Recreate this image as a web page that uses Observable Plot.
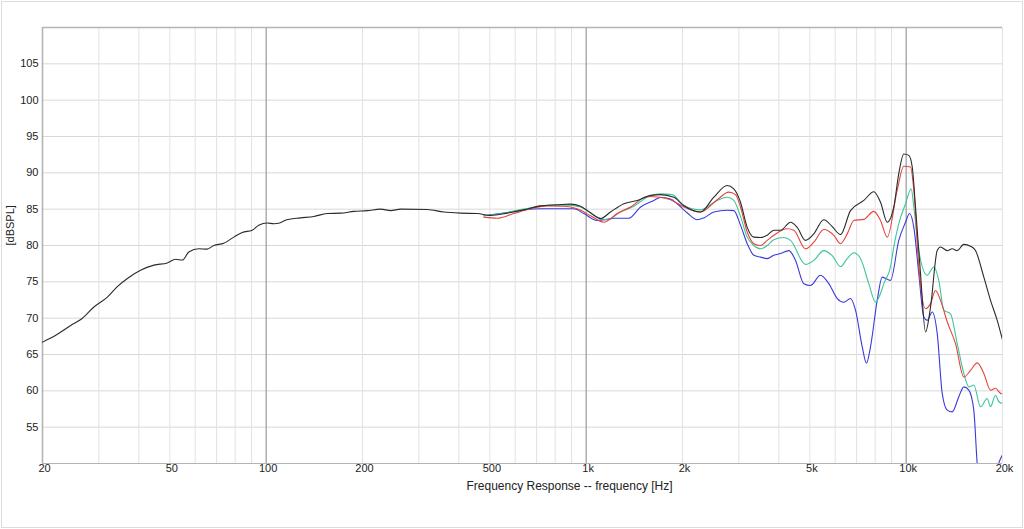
<!DOCTYPE html>
<html>
<head>
<meta charset="utf-8">
<script src="https://cdn.jsdelivr.net/npm/d3@7"></script>
<script src="https://cdn.jsdelivr.net/npm/@observablehq/plot@0.6"></script>
<style>
  html, body { margin: 0; padding: 0; background: #fff; }
  #wrap { position: relative; width: 1024px; height: 529px; overflow: hidden; }
  #border { position: absolute; left: 1px; top: 1px; width: 1020px; height: 525px; border: 1px solid #dcdcdc; pointer-events: none; }
</style>
</head>
<body>
<div id="wrap"><div id="border"></div></div>
<script>
// ---- Data ----
const freqBlack = [20, 22, 24.5, 26.6, 28.9, 31.9, 34.2, 37.2, 40.5, 44.6, 49.1, 52.1, 54.7, 57.3, 61.6, 65.4, 68.6, 73.7, 79.2, 84.2, 90.4, 94.8, 100.8, 105.7, 110.3, 116, 128, 141, 155, 171, 188, 207, 228, 245, 263, 319, 359, 405, 457, 502, 567, 639, 720, 812, 893, 960, 1032, 1109, 1191, 1311, 1444, 1589, 1707, 1879, 2019, 2276, 2506, 2758, 2892, 3036, 3186, 3342, 3506, 3679, 3858, 4049, 4352, 4565, 4846, 5145, 5528, 5874, 6236, 6699, 7374, 7921, 8314, 8727, 9148, 9482, 9832, 10193, 10446, 10696, 11088, 11494, 11914, 12502, 12804, 13436, 13928, 14438, 15142, 15886, 16468, 17486, 18348, 19254, 20000];
const dbBlack   = [66.7, 67.65, 69.0, 69.95, 71.5, 72.9, 74.3, 75.6, 76.6, 77.3, 77.6, 78.1, 78.0, 79.1, 79.55, 79.5, 80.0, 80.3, 81.15, 81.8, 82.1, 82.8, 83.1, 83.0, 83.1, 83.55, 83.8, 84.0, 84.4, 84.45, 84.7, 84.8, 85.0, 84.8, 85.0, 84.95, 84.6, 84.45, 84.4, 84.15, 84.45, 84.9, 85.45, 85.6, 85.7, 85.4, 84.5, 83.7, 84.6, 85.75, 86.2, 86.9, 87.0, 86.65, 85.5, 84.6, 86.65, 88.25, 87.8, 85.95, 82.5, 81.15, 81.1, 81.4, 82.1, 82.1, 83.2, 82.5, 80.7, 81.6, 83.55, 82.6, 81.5, 84.8, 86.2, 87.4, 85.95, 83.2, 85.3, 89.9, 92.6, 92.4, 90.8, 85.3, 76.1, 68.1, 71.5, 79.3, 79.8, 79.3, 79.55, 79.3, 80.15, 79.9, 79.3, 75.65, 72.45, 69.7, 67.0];

const freqRed = [479, 527, 594, 670, 755, 852, 937, 1032, 1135, 1250, 1376, 1551, 1707, 1835, 2019, 2276, 2568, 2790, 2928, 3036, 3186, 3342, 3506, 3679, 3858, 4250, 4455, 4846, 5145, 5528, 5942, 6236, 6544, 6861, 7374, 7921, 8314, 8727, 9373, 9832, 10318, 10566, 10952, 11494, 11914, 12350, 12804, 13436, 14262, 15142, 15886, 16670, 17486, 18348, 19020, 19714, 20000];
const dbRed   = [83.9, 83.75, 84.4, 85.05, 85.45, 85.4, 85.05, 84.1, 83.2, 84.4, 85.3, 86.75, 86.65, 86.3, 85.3, 84.6, 86.3, 87.35, 87.0, 85.3, 81.85, 80.25, 80.0, 80.7, 81.4, 82.3, 82.1, 79.55, 80.45, 82.2, 81.4, 80.25, 81.6, 83.45, 83.6, 84.7, 83.45, 81.15, 87.6, 90.9, 90.8, 87.6, 77.05, 71.3, 72.0, 73.8, 72.45, 69.5, 66.5, 61.9, 62.8, 63.85, 62.4, 60.1, 60.35, 59.65, 59.6];

const freqGreen = [479, 567, 670, 774, 873, 960, 1083, 1163, 1280, 1409, 1551, 1707, 1857, 2019, 2276, 2568, 2758, 2892, 3036, 3186, 3342, 3506, 3679, 3858, 4148, 4352, 4846, 5145, 5528, 5874, 6236, 6544, 6861, 7199, 7642, 8017, 8314, 8515, 8934, 9148, 9482, 9954, 10370, 10566, 10952, 11636, 12200, 12646, 13112, 13758, 14438, 15142, 15696, 16268, 17072, 17918, 18348, 19020, 19472, 20000];
const dbGreen   = [84.1, 84.55, 85.2, 85.55, 85.55, 85.3, 83.9, 83.55, 84.6, 85.4, 86.65, 87.1, 87.0, 85.5, 84.9, 86.2, 86.65, 86.2, 84.0, 81.15, 80.0, 79.55, 80.0, 80.8, 81.1, 80.7, 77.4, 77.95, 79.3, 78.6, 77.1, 78.2, 79.0, 78.2, 74.75, 72.2, 73.4, 74.75, 77.05, 79.8, 83.0, 85.75, 87.8, 85.3, 79.3, 75.9, 77.05, 75.2, 71.1, 70.6, 66.5, 62.4, 60.55, 60.8, 57.8, 58.95, 57.8, 59.4, 58.5, 58.25];

const freqBlue = [479, 567, 639, 720, 812, 915, 983, 1083, 1163, 1220, 1359, 1479, 1627, 1707, 1835, 1925, 2068, 2224, 2332, 2506, 2758, 2892, 3036, 3186, 3342, 3506, 3679, 3858, 4049, 4299, 4510, 4788, 5024, 5398, 5732, 6090, 6386, 6699, 6945, 7290, 7516, 7736, 8118, 8418, 8934, 9482, 9954, 10244, 10566, 10952, 11356, 11636, 12062, 12502, 12962, 13436, 13928, 14606, 15142, 15696, 16268, 16670, 17072, 18348, 19296, 20000];
const dbBlue   = [84.1, 84.55, 84.9, 85.05, 85.05, 85.05, 84.4, 83.45, 83.6, 83.75, 83.75, 85.3, 86.2, 86.6, 86.4, 85.75, 84.5, 83.55, 83.8, 84.6, 84.85, 84.8, 82.8, 80.25, 78.65, 78.4, 78.2, 78.65, 78.9, 79.3, 77.95, 74.75, 74.5, 75.9, 74.75, 72.7, 72.2, 72.7, 71.1, 66.05, 63.8, 66.05, 72.45, 75.65, 75.2, 80.7, 83.2, 84.4, 82.5, 76.1, 70.15, 69.7, 70.85, 67.9, 59.65, 57.35, 57.1, 59.2, 60.55, 60.1, 57.35, 50.0, 46, 44, 49.5, 51.2];

const xTickValues = [20, 50, 100, 200, 500, 1000, 2000, 5000, 10000, 20000];
const xTickLabels = ["20", "50", "100", "200", "500", "1k", "2k", "5k", "10k", "20k"];
const yTickValues = [55, 60, 65, 70, 75, 80, 85, 90, 95, 100, 105];
const majorGridX = [100, 1000, 10000];
const minorGridX = [30, 40, 50, 60, 70, 80, 90, 200, 300, 400, 500, 600, 700, 800, 900, 2000, 3000, 4000, 5000, 6000, 7000, 8000, 9000, 20000];
const gridY = [55, 60, 65, 70, 75, 80, 85, 90, 95, 100, 105];

const seriesColors = {black: "#2b2b2b", red: "#e4443d", green: "#3cc69a", blue: "#3a3ada"};

const toRows = (f, v) => f.map((x, i) => ({f: x, db: v[i]}));
const black = toRows(freqBlack, dbBlack);
const red = toRows(freqRed, dbRed);
const green = toRows(freqGreen, dbGreen);
const blue = toRows(freqBlue, dbBlue);
const xTicks = xTickValues.map((v, i) => ({v, label: xTickLabels[i]}));

const chart = Plot.plot({
  width: 1024,
  height: 529,
  marginLeft: 42,
  marginRight: 22,
  marginTop: 27,
  marginBottom: 66,
  x: {type: "log", domain: [20, 20000], axis: null},
  y: {domain: [50, 110], axis: null},
  style: {fontFamily: "'Liberation Sans', Arial, sans-serif", fontSize: "11px", color: "#222", background: "transparent"},
  marks: [
    Plot.ruleY(gridY, {stroke: "#d8d8d8", strokeWidth: 1}),
    Plot.ruleX(minorGridX, {stroke: "#e2e2e2", strokeWidth: 1}),
    Plot.ruleX(majorGridX, {stroke: "#9a9a9a", strokeWidth: 1.2}),
    Plot.ruleX([20], {stroke: "#b4b4b4", strokeWidth: 1.6}),
    Plot.ruleY([110], {stroke: "#b4b4b4", strokeWidth: 1.6}),
    Plot.ruleY([50], {stroke: "#b4b4b4", strokeWidth: 1.2}),
    Plot.line(blue, {x: "f", y: "db", stroke: seriesColors.blue, strokeWidth: 1.1, curve: "monotone-x", clip: true}),
    Plot.line(green, {x: "f", y: "db", stroke: seriesColors.green, strokeWidth: 1.1, curve: "monotone-x", clip: true}),
    Plot.line(red, {x: "f", y: "db", stroke: seriesColors.red, strokeWidth: 1.1, curve: "monotone-x", clip: true}),
    Plot.line(black, {x: "f", y: "db", stroke: seriesColors.black, strokeWidth: 1.1, curve: "monotone-x", clip: true}),
    Plot.text(xTicks, {x: "v", text: "label", frameAnchor: "bottom", dy: 8, dx: 2, fontSize: 11, fill: "#222"}),
    Plot.text(yTickValues, {y: d => d, text: d => String(d), frameAnchor: "left", textAnchor: "end", dx: -4, fontSize: 11, fill: "#222"}),
    Plot.text(["Frequency Response -- frequency [Hz]"], {frameAnchor: "bottom", dy: 26, dx: 47, fontSize: 12, fill: "#222"}),
    Plot.text(["[dBSPL]"], {frameAnchor: "left", dx: -32, rotate: -90, fontSize: 11, fill: "#222"})
  ]
});
document.getElementById("wrap").prepend(chart);
</script>
</body>
</html>
